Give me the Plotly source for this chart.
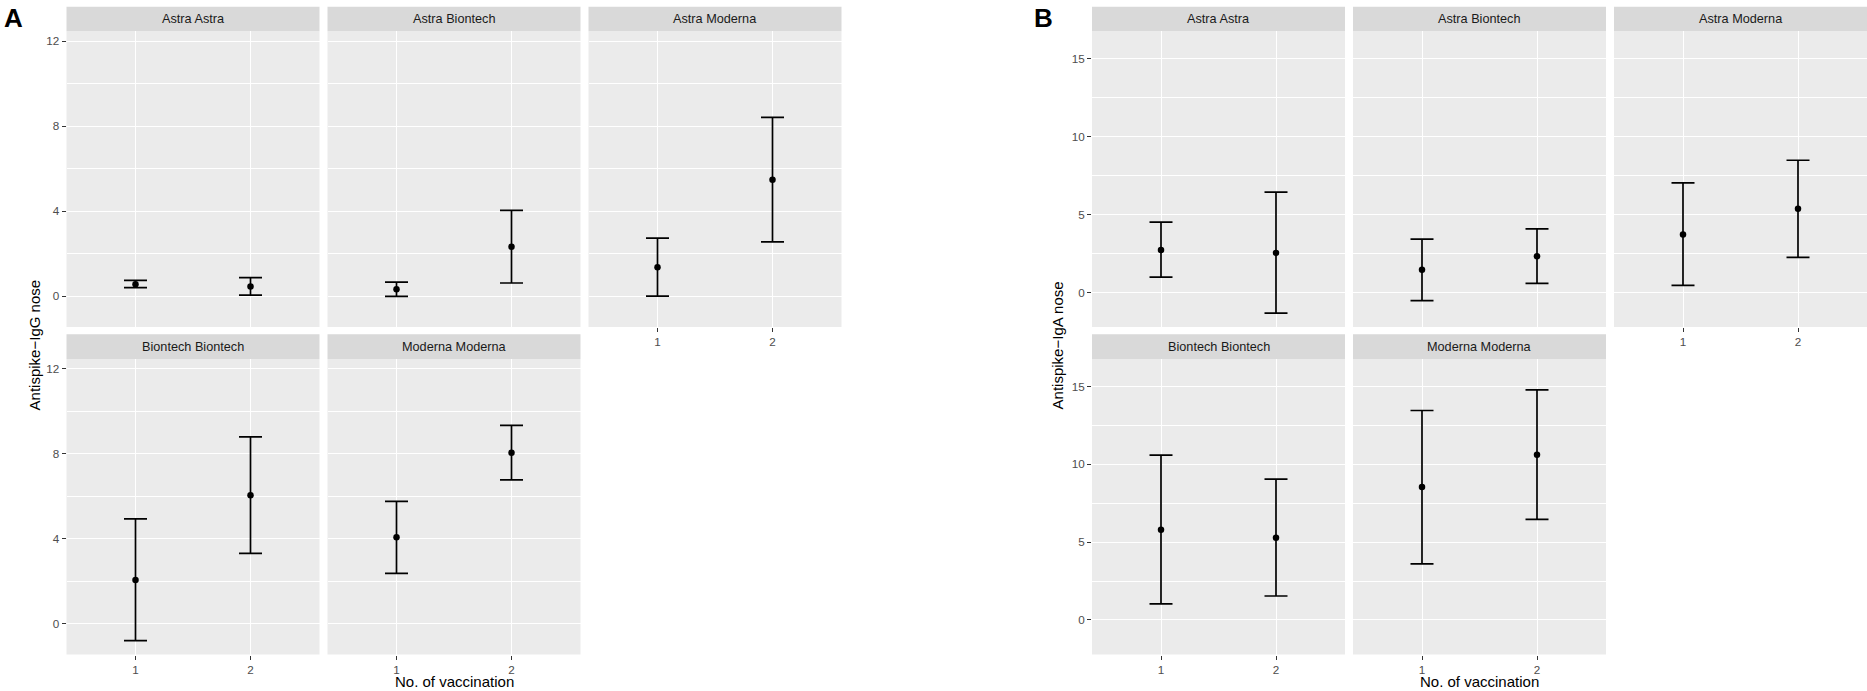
import plotly.graph_objects as go

# ---------------- data ----------------
facets = ["Astra Astra", "Astra Biontech", "Astra Moderna",
          "Biontech Biontech", "Moderna Moderna"]
vaccination = [1, 2]
vacc_labels = ["1", "2"]

# Panel A: Antispike-IgG nose  (per facet: [vacc 1, vacc 2])
igg_mean = [[0.57, 0.47], [0.34, 2.33], [1.37, 5.49], [2.07, 6.06], [4.08, 8.06]]
igg_low  = [[0.41, 0.06], [0.00, 0.63], [0.01, 2.56], [-0.79, 3.32], [2.38, 6.78]]
igg_high = [[0.75, 0.88], [0.67, 4.05], [2.74, 8.42], [4.94, 8.80], [5.77, 9.35]]
igg_ticks = [0, 4, 8, 12]

# Panel B: Antispike-IgA nose
iga_mean = [[2.73, 2.54], [1.45, 2.33], [3.72, 5.37], [5.80, 5.28], [8.54, 10.61]]
iga_low  = [[0.98, -1.33], [-0.53, 0.58], [0.45, 2.25], [1.03, 1.54], [3.61, 6.46]]
iga_high = [[4.51, 6.44], [3.42, 4.08], [7.03, 8.49], [10.59, 9.05], [13.46, 14.78]]
iga_ticks = [0, 5, 10, 15]

panel_letters = ["A", "B"]
y_titles = ["Antispike\u2212IgG nose", "Antispike\u2212IgA nose"]
x_title = "No. of vaccination"

# ---------------- layout constants (pixels) ----------------
W, H = 1867, 691
FONT = "Liberation Sans, Arial, Helvetica, sans-serif"
PW = 253.0                      # panel width
col_left = [[66.5, 327.5, 588.5], [1092.0, 1353.0, 1614.0]]
strip_top = [6.8, 334.3]
strip_bot = [31.3, 359.0]
plot_bot = [327.0, 654.5]
yranges = [[-1.44, 12.47], [-2.22, 16.77]]
minor_dt = [2, 2.5]
cells = [(0, 0), (0, 1), (0, 2), (1, 0), (1, 1)]

def fx(px):
    return px / W

def fy(py):
    return 1 - py / H

fig = go.Figure()
layout = dict(
    width=W, height=H, autosize=False,
    margin=dict(l=0, r=0, t=0, b=0),
    paper_bgcolor="white", plot_bgcolor="#EBEBEB",
    showlegend=False,
    font=dict(family=FONT, size=12, color="#4D4D4D"),
)
shapes = []
annotations = []

datasets = [(igg_mean, igg_low, igg_high, igg_ticks),
            (iga_mean, iga_low, iga_high, iga_ticks)]

idx = 0
for p, (means, lows, highs, ticks) in enumerate(datasets):
    for f, (r, c) in enumerate(cells):
        idx += 1
        xa = "x" if idx == 1 else f"x{idx}"
        ya = "y" if idx == 1 else f"y{idx}"
        xkey = "xaxis" if idx == 1 else f"xaxis{idx}"
        ykey = "yaxis" if idx == 1 else f"yaxis{idx}"
        l = col_left[p][c]
        show_x = (r == 1) or (f == 2)
        show_y = (c == 0)

        m = means[f]
        lo = lows[f]
        hi = highs[f]
        fig.add_trace(go.Scatter(
            x=vaccination, y=m, mode="markers",
            marker=dict(color="black", size=6.5),
            error_y=dict(type="data", symmetric=False,
                         array=[h - v for h, v in zip(hi, m)],
                         arrayminus=[v - q for v, q in zip(m, lo)],
                         color="black", thickness=1.7, width=11.5),
            xaxis=xa, yaxis=ya, showlegend=False, hoverinfo="x+y",
        ))

        layout[xkey] = dict(
            domain=[fx(l), fx(l + PW)], anchor=ya,
            range=[0.4, 2.6], tickmode="array",
            tickvals=vaccination, ticktext=vacc_labels,
            showticklabels=show_x,
            ticks="outside" if show_x else "", ticklen=4, tickwidth=1,
            tickcolor="#333333",
            tickfont=dict(family=FONT, size=11.7, color="#4D4D4D"),
            showgrid=True, gridcolor="white", gridwidth=1.3,
            zeroline=False, showline=False, fixedrange=True,
        )
        layout[ykey] = dict(
            domain=[fy(plot_bot[r]), fy(strip_bot[r])], anchor=xa,
            range=yranges[p], tickmode="array", tickvals=ticks,
            ticktext=[str(t) for t in ticks],
            showticklabels=show_y,
            ticks="outside" if show_y else "", ticklen=4, tickwidth=1,
            tickcolor="#333333",
            tickfont=dict(family=FONT, size=11.7, color="#4D4D4D"),
            showgrid=True, gridcolor="white", gridwidth=1.3,
            minor=dict(dtick=minor_dt[p], tick0=0, showgrid=True,
                       gridcolor="white", gridwidth=0.6, ticks=""),
            zeroline=False, showline=False, fixedrange=True,
        )

        # strip
        shapes.append(dict(type="rect", xref="paper", yref="paper",
                           x0=fx(l), x1=fx(l + PW),
                           y0=fy(strip_bot[r]), y1=fy(strip_top[r]),
                           fillcolor="#D9D9D9", line=dict(width=0), layer="below"))
        annotations.append(dict(
            text=facets[f], xref="paper", yref="paper",
            x=fx(l + PW / 2), y=fy((strip_top[r] + strip_bot[r]) / 2),
            xanchor="center", yanchor="middle", showarrow=False,
            font=dict(family=FONT, size=12.7, color="#1A1A1A")))

    # panel letter
    letter_x = [2.0, 1032.0][p]
    annotations.append(dict(
        text=f"<b>{panel_letters[p]}</b>", xref="paper", yref="paper",
        x=fx(letter_x), y=fy(18), xanchor="left", yanchor="middle",
        showarrow=False, font=dict(family=FONT, size=26, color="black")))
    # y title
    ytitle_x = [34.4, 1057.4][p]
    annotations.append(dict(
        text=y_titles[p], xref="paper", yref="paper",
        x=fx(ytitle_x), y=fy(345), xanchor="center", yanchor="middle",
        textangle=-90, showarrow=False,
        font=dict(family=FONT, size=15, color="black")))
    # x title
    xc = (col_left[p][0] + col_left[p][2] + PW) / 2
    annotations.append(dict(
        text=x_title, xref="paper", yref="paper",
        x=fx(xc), y=0, xanchor="center", yanchor="bottom",
        borderpad=0, showarrow=False,
        font=dict(family=FONT, size=15, color="black")))

layout["shapes"] = shapes
layout["annotations"] = annotations
fig.update_layout(**layout)
fig.write_html(
    "out.html",
    config={"displayModeBar": False},
    post_script="document.body.style.margin='0';document.body.style.padding='0';"
                "document.body.style.overflow='hidden';",
)
